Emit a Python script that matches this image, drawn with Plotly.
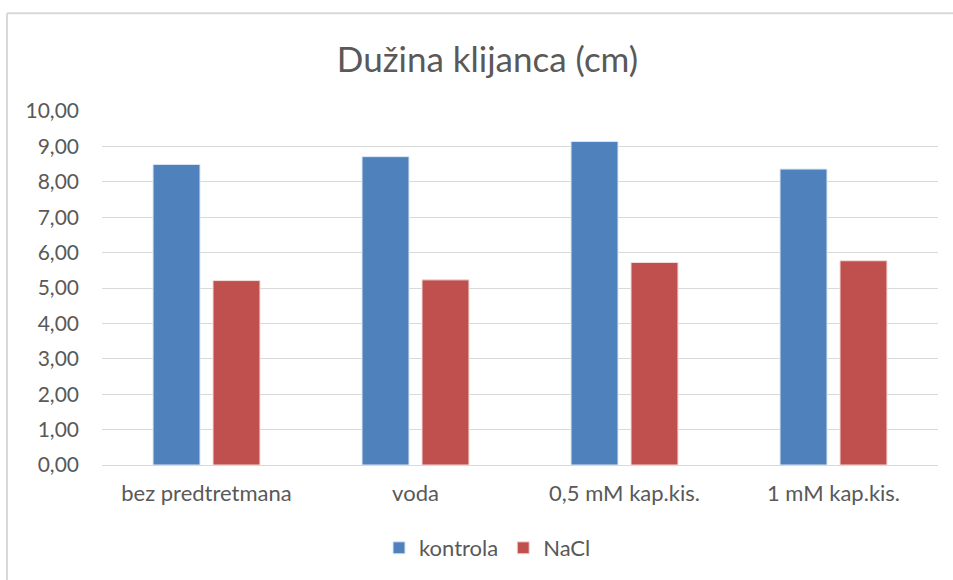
import plotly.graph_objects as go

categories = ["bez predtretmana", "voda", "0,5 mM kap.kis.", "1 mM kap.kis."]
kontrola = [8.49, 8.71, 9.14, 8.36]
nacl = [5.21, 5.23, 5.72, 5.77]
y_ticks = [0, 1, 2, 3, 4, 5, 6, 7, 8, 9, 10]
y_tick_labels = ["0,00", "1,00", "2,00", "3,00", "4,00", "5,00", "6,00", "7,00", "8,00", "9,00", "10,00"]

font_family = "Lato, 'Open Sans', sans-serif"
text_color = "#595959"

fig = go.Figure()
fig.add_trace(go.Bar(name="kontrola", x=categories, y=kontrola,
                     marker=dict(color="#4F81BD", line=dict(color="#DCE6F2", width=1))))
fig.add_trace(go.Bar(name="NaCl", x=categories, y=nacl,
                     marker=dict(color="#C0504D", line=dict(color="#F2DCDB", width=1))))

W, H = 953, 580
ml, mr, mt, mb = 102, 15, 111, 114
pw = W - ml - mr
ph = H - mt - mb

def px_x(p):
    return (p - ml) / pw

def px_y(p):
    return (H - mb - p) / ph

fig.update_layout(
    width=W, height=H,
    margin=dict(l=ml, r=mr, t=mt, b=mb),
    paper_bgcolor="white", plot_bgcolor="white",
    barmode="group", bargap=0.426, bargroupgap=0.217,
    title=dict(text="Dužina klijanca (cm)", xref="container", x=487.5 / W, xanchor="center",
               yref="container", y=1 - 60 / H, yanchor="middle",
               font=dict(family=font_family, size=35, color=text_color)),
    font=dict(family=font_family, color=text_color, size=22),
    xaxis=dict(showgrid=False, showline=False, ticks="", zeroline=False,
               ticklabelstandoff=13,
               tickfont=dict(size=22, color=text_color)),
    yaxis=dict(range=[0, 10], tickvals=y_ticks, ticktext=y_tick_labels,
               showgrid=True, gridcolor="#D9D9D9", gridwidth=1.3,
               zeroline=True, zerolinecolor="#D9D9D9", zerolinewidth=1.3,
               showline=False, ticks="", ticklabelstandoff=22,
               tickfont=dict(size=21, color=text_color)),
    legend=dict(orientation="h", x=px_x(379), xanchor="left", y=px_y(548), yanchor="middle",
                font=dict(size=22, color=text_color), itemwidth=30,
                traceorder="normal"),
    shapes=[
        dict(type="line", xref="paper", yref="paper",
             x0=px_x(7), x1=px_x(7), y0=px_y(13), y1=px_y(585),
             line=dict(color="#D9D9D9", width=2)),
        dict(type="line", xref="paper", yref="paper",
             x0=px_x(7), x1=px_x(960), y0=px_y(13), y1=px_y(13),
             line=dict(color="#D9D9D9", width=2)),
    ],
)

fig.write_html("out.html", config={"displayModeBar": False},
               post_script="document.body.style.margin='0';document.body.style.overflow='hidden';")
